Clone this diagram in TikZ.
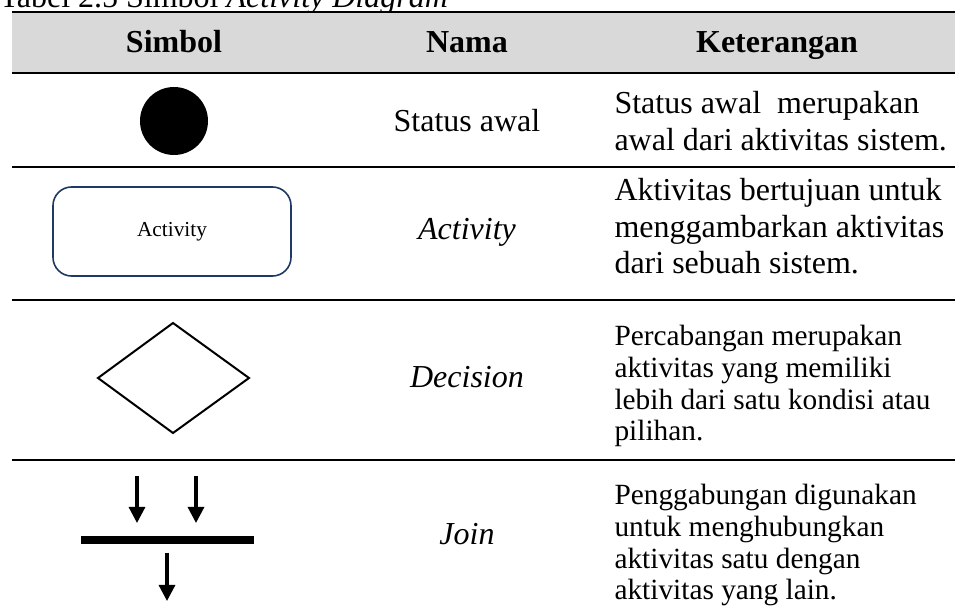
\documentclass[tikz,border=0pt]{standalone}
\usepackage{fontspec}
\setmainfont{Liberation Serif}
\usetikzlibrary{arrows.meta}
\definecolor{hdrgrey}{HTML}{D9D9D9}
\definecolor{navy}{HTML}{203864}
\begin{document}
\begin{tikzpicture}[x=0.375pt,y=-0.375pt,
  rule/.style={line width=0.75pt},
  hdr/.style={anchor=base,inner sep=0pt,font=\fontsize{12}{13.5}\selectfont\bfseries},
  nama/.style={anchor=base,inner sep=0pt,font=\fontsize{12}{13.5}\selectfont},
  ketbig/.style={anchor=north west,inner sep=0pt,align=left,font=\fontsize{12}{13.6}\selectfont},
  ketsmall/.style={anchor=north west,inner sep=0pt,align=left,font=\fontsize{11}{11.85}\selectfont},
  joinarrow/.style={line width=1.2pt,-{Triangle[width=6pt,length=6pt]}}]
\useasboundingbox (0,0) rectangle (955,606);
% title (cut by the page top)
\node[anchor=base west,inner sep=0pt,font=\fontsize{12}{14}\selectfont] (title) at (-1,8) {Tabel 2.5 Simbol \textit{Activity Diagram}};
% header band and rules
\fill[hdrgrey] (12,12) rectangle (955,73);
\draw[rule] (12,12) -- (955,12);
\draw[rule] (12,73) -- (955,73);
\draw[rule] (12,167) -- (955,167);
\draw[rule] (12,300) -- (955,300);
\draw[rule] (12,460) -- (955,460);
% headers
\node[hdr] (hsimbol) at (174,53) {Simbol};
\node[hdr] (hnama) at (467,53) {Nama};
\node[hdr] (hket) at (777,53) {Keterangan};
% row 1
\node[circle,fill=black,minimum size=25.5pt,inner sep=0pt] (start) at (174,121) {};
\node[nama] (n1) at (467,132) {Status awal};
\node[ketbig] (k1) at (614,91) {Status awal\ \ merupakan\\awal dari aktivitas sistem.};
% row 2
\node[draw=navy,line width=0.6pt,rounded corners=7pt,minimum width=89.25pt,minimum height=33.4pt,inner sep=0pt,font=\fontsize{8}{9.6}\selectfont] (act) at (172,231.5) {Activity};
\node[nama,font=\fontsize{12}{13.5}\selectfont\itshape] (n2) at (467,240) {Activity};
\node[ketbig] (k2) at (614,178) {Aktivitas bertujuan untuk\\menggambarkan aktivitas\\dari sebuah sistem.};
% row 3
\coordinate (dt) at (173,323);
\coordinate (dr) at (249,378);
\coordinate (db) at (173,433);
\coordinate (dl) at (98,378);
\draw[line width=0.75pt,line join=miter] (dt) -- (dr) -- (db) -- (dl) -- cycle;
\node[nama,font=\fontsize{12}{13.5}\selectfont\itshape] (n3) at (467,388) {Decision};
\node[ketsmall] (k3) at (614,325) {Percabangan merupakan\\aktivitas yang memiliki\\lebih dari satu kondisi atau\\pilihan.};
% row 4
\node[fill=black,minimum width=64.9pt,minimum height=3pt,inner sep=0pt] (bar) at (167.5,540) {};
\coordinate (a1s) at (137,476);
\coordinate (a1e) at (137,523);
\coordinate (a2s) at (196,476);
\coordinate (a2e) at (196,523);
\coordinate (a3s) at (167,553);
\coordinate (a3e) at (167,601);
\draw[joinarrow] (a1s) -- (a1e);
\draw[joinarrow] (a2s) -- (a2e);
\draw[joinarrow] (a3s) -- (a3e);
\node[nama,font=\fontsize{12}{13.5}\selectfont\itshape] (n4) at (467,545) {Join};
\node[ketsmall] (k4) at (614,484) {Penggabungan digunakan\\untuk menghubungkan\\aktivitas satu dengan\\aktivitas yang lain.};
\end{tikzpicture}
\end{document}
